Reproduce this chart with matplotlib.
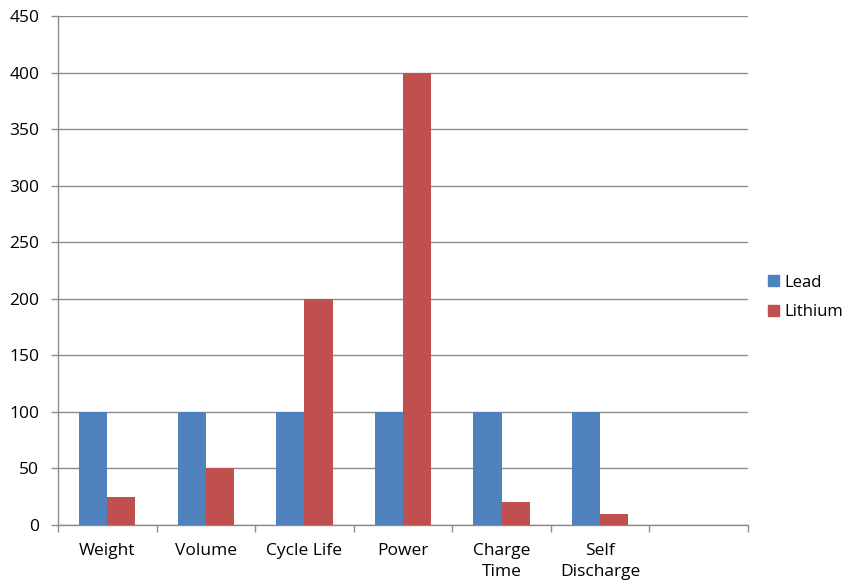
import numpy as np
import matplotlib.pyplot as plt
from matplotlib.patches import Patch

plt.rcParams["font.family"] = ["Open Sans", "DejaVu Sans"]

categories = ["Weight", "Volume", "Cycle Life", "Power", "Charge\nTime", "Self\nDischarge", ""]
lead = [100, 100, 100, 100, 100, 100, np.nan]
lithium = [25, 50, 200, 400, 20, 10, np.nan]

blue = "#4F81BD"
red = "#C0504D"
grid = "#8C8C8C"


def main():
    fig = plt.figure(figsize=(8.45, 5.83), dpi=100)
    ax = fig.add_axes([0.0686, 0.0995, 0.8166, 0.873])

    x = np.arange(len(categories))
    w = 1 / 3.5
    ax.bar(x - w / 2, lead, w, color=blue, label="Lead", zorder=3)
    ax.bar(x + w / 2, lithium, w, color=red, label="Lithium", zorder=3)

    ax.set_xlim(-0.5, len(categories) - 0.5)
    ax.set_ylim(0, 450)
    ax.set_yticks(np.arange(0, 451, 50))
    ax.yaxis.grid(True, color=grid, linewidth=1, zorder=0)

    ax.set_xticks(x)
    ax.set_xticklabels(categories, fontsize=12.5, linespacing=1.45)
    ax.set_xticks(np.arange(-0.5, len(categories)), minor=True)
    ax.tick_params(axis="x", which="major", length=0, pad=13)
    ax.tick_params(axis="x", which="minor", length=5, color=grid, width=1)
    ax.tick_params(axis="y", length=5, color=grid, width=1, labelsize=12.5, pad=8.5)

    for s in ["top", "right"]:
        ax.spines[s].set_visible(False)
    for s in ["left", "bottom"]:
        ax.spines[s].set_color(grid)
        ax.spines[s].set_linewidth(1)

    handles = [Patch(color=blue, label="Lead"), Patch(color=red, label="Lithium")]
    fig.legend(handles=handles, loc="center left", bbox_to_anchor=(0.909, 0.49),
               frameon=False, fontsize=12, handlelength=0.65, handleheight=0.65,
               handletextpad=0.35, labelspacing=0.8, borderpad=0, borderaxespad=0)
    return fig, ax


if __name__ == "__main__":
    fig, _ = main()
    fig.savefig("out.png")
